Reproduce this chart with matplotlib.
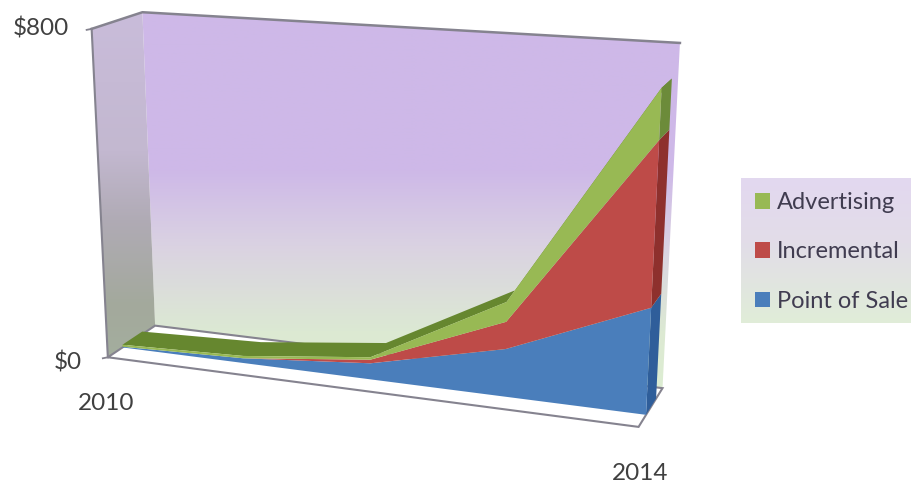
import numpy as np
import matplotlib
matplotlib.use("Agg")
import matplotlib.pyplot as plt
from matplotlib.patches import Polygon, Patch
from matplotlib.colors import LinearSegmentedColormap

plt.rcParams['font.family'] = ['Lato', 'DejaVu Sans']

# ---- data ----
years = [2010, 2011, 2012, 2013, 2014]
point_of_sale = [2, 12, 40, 115, 250]
incremental = [0, 0, 9, 65, 373]
advertising = [5, 6, 6, 47, 112]
series_names = ["Advertising", "Incremental", "Point of Sale"]
y_max = 800
y_tick_labels = ["$0", "$800"]
x_tick_labels = ["2010", "2014"]

# ---- projection (box coordinates u, depth d, height h -> picture pixels) ----
corr = [((0, 0, 0), (108, 358)), ((1, 0, 0), (638, 427)), ((1, 1, 0), (663, 388)),
        ((0, 1, 0), (155, 325)), ((0, 0, 1), (92, 28)), ((0, 1, 1), (142, 13)),
        ((1, 1, 1), (680, 43))]
A, b = [], []
for (X, Y, Z), (px, py) in corr:
    A.append([X, Y, Z, 1, 0, 0, 0, 0, -px * X, -px * Y, -px * Z]); b.append(px)
    A.append([0, 0, 0, 0, X, Y, Z, 1, -py * X, -py * Y, -py * Z]); b.append(py)
sol = np.linalg.lstsq(np.array(A, float), np.array(b, float), rcond=None)[0]
P = np.append(sol, 1.0).reshape(3, 4)


def project(u, d, h):
    u, d, h = np.broadcast_arrays(np.asarray(u, float), np.asarray(d, float), np.asarray(h, float))
    v = P @ np.vstack([u.ravel(), d.ravel(), h.ravel(), np.ones(u.size)])
    return np.column_stack([v[0] / v[2], v[1] / v[2]])


fig = plt.figure(figsize=(9.11, 4.84), dpi=100)
ax = fig.add_axes([0, 0, 1, 1])
ax.set_xlim(0, 911)
ax.set_ylim(484, 0)
ax.axis("off")

edge = "#85838F"


def gradient(poly, stops, y0, y1, z=1):
    cmap = LinearSegmentedColormap.from_list("g", stops)
    xs = [p[0] for p in poly]
    ext = [min(xs), max(xs), y1, y0]
    im = ax.imshow(np.linspace(0, 1, 256)[:, None], cmap=cmap, extent=ext, aspect="auto", zorder=z)
    im.set_clip_path(Polygon(poly, transform=ax.transData))


# back wall
back = project([0, 1, 1, 0], [1, 1, 1, 1], [0, 0, 1, 1])
gradient(back, [(0, "#CEB8E8"), (0.42, "#CEB9E8"), (0.62, "#DAD2E2"), (0.85, "#DCE9D3"), (1, "#DDEDD2")], 13, 388)
# left wall
left = project([0, 0, 0, 0], [0, 1, 1, 0], [0, 0, 1, 1])
gradient(left, [(0, "#C9BCDA"), (0.4, "#C3B8D0"), (0.6, "#B0ABB5"), (0.85, "#A3A99C"), (1, "#A4AE9E")], 13, 358)
# floor
floor = project([0, 1, 1, 0], [0, 0, 1, 1], [0, 0, 0, 0])
ax.add_patch(Polygon(floor, closed=True, fc="white", ec=edge, lw=1.5, zorder=2))
# wall outlines
ln = project([0, 0, 1], [0, 1, 1], [1, 1, 1])
ax.plot(ln[:, 0], ln[:, 1], color=edge, lw=1.8, zorder=3)
ln = project([0, 0], [0, 0], [0, 1])
ax.plot(ln[:, 0], ln[:, 1], color=edge, lw=1.5, zorder=3)
# tick stubs on the value axis
for v in (0, 1):
    p = project(0, 0, v)[0]
    ax.plot([p[0] - 5, p[0]], [p[1] + 1, p[1]], color=edge, lw=1.3, zorder=3)

# ---- stacked areas ----
u = np.linspace(0, 1, len(years))
d_front, d_back = 0.30, 0.72
cum0 = np.zeros(len(years))
stack = []
for vals in (point_of_sale, incremental, advertising):
    cum1 = cum0 + np.array(vals, float)
    stack.append((cum0 / y_max, cum1 / y_max))
    cum0 = cum1
faces = ["#4A7EBB", "#BE4B48", "#98B954"]
sides = ["#2F5E9A", "#8E302D", "#6C8B3A"]

# top surface of the stack
top = stack[-1][1]
pts = np.vstack([project(u, d_front, top), project(u[::-1], d_back, top[::-1])])
ax.add_patch(Polygon(pts, closed=True, fc="#66872F", ec="none", zorder=4))
for (lo, hi), sc in zip(stack, sides):
    # right side face
    sp = np.vstack([project([1, 1], [d_front, d_back], [lo[-1], lo[-1]]),
                    project([1, 1], [d_back, d_front], [hi[-1], hi[-1]])])
    ax.add_patch(Polygon(sp, closed=True, fc=sc, ec="none", zorder=5))
for (lo, hi), fc in zip(stack, faces):
    fp = np.vstack([project(u, d_front, lo), project(u[::-1], d_front, hi[::-1])])
    ax.add_patch(Polygon(fp, closed=True, fc=fc, ec="none", zorder=6))

# ---- labels ----
tc = "#404040"
fs = 17.5
ax.text(69, 29, y_tick_labels[1], ha="right", va="center", fontsize=fs, color=tc, zorder=8)
ax.text(82, 362, y_tick_labels[0], ha="right", va="center", fontsize=fs, color=tc, zorder=8)
ax.text(106, 404, x_tick_labels[0], ha="center", va="center", fontsize=fs, color=tc, zorder=8)
ax.text(640, 473, x_tick_labels[1], ha="center", va="center", fontsize=fs, color=tc, zorder=8)

# ---- legend ----
lb = [(741, 178), (911, 178), (911, 323), (741, 323)]
gradient(lb, [(0, "#E3D8F0"), (0.45, "#E2DDE8"), (1, "#E0EDD8")], 178, 323, z=1)
handles = [Patch(fc=faces[2], ec="none"), Patch(fc=faces[1], ec="none"), Patch(fc=faces[0], ec="none")]
leg = ax.legend(handles, series_names, loc="upper left", bbox_to_anchor=(755 / 911, 1 - 192 / 484),
                bbox_transform=fig.transFigure, frameon=False, fontsize=17, handlelength=0.64,
                handleheight=0.64, handletextpad=0.3, labelspacing=1.2, borderpad=0, borderaxespad=0,
                labelcolor="#403C50")
leg.set_zorder(9)

fig.savefig("out.png", dpi=100)
